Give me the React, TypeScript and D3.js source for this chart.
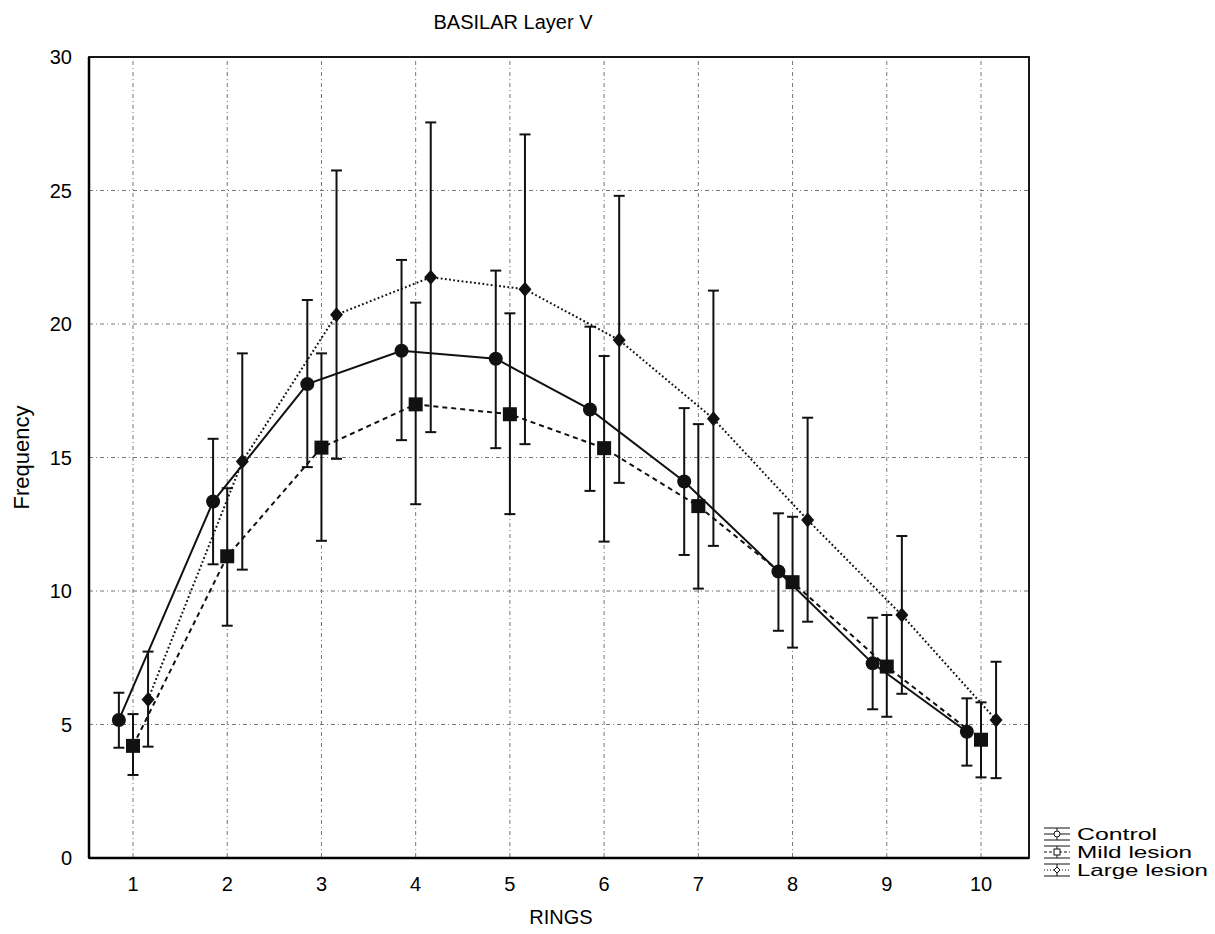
import React from "react";
import * as d3 from "d3";

const rings = [1, 2, 3, 4, 5, 6, 7, 8, 9, 10];
const yTicks = [0, 5, 10, 15, 20, 25, 30];

const controlMean = [5.17, 13.35, 17.75, 19.0, 18.7, 16.8, 14.1, 10.73, 7.29, 4.73];
const controlHi = [6.19, 15.7, 20.9, 22.4, 22.0, 19.9, 16.85, 12.91, 9.0, 5.98];
const controlLo = [4.13, 11.0, 14.64, 15.65, 15.35, 13.75, 11.35, 8.51, 5.57, 3.46];

const mildMean = [4.2, 11.3, 15.37, 16.99, 16.62, 15.35, 13.18, 10.33, 7.17, 4.43];
const mildHi = [5.39, 13.85, 18.9, 20.8, 20.4, 18.8, 16.25, 12.78, 9.1, 5.83];
const mildLo = [3.11, 8.7, 11.88, 13.25, 12.88, 11.85, 10.09, 7.88, 5.29, 3.02];

const largeMean = [5.94, 14.85, 20.35, 21.75, 21.3, 19.4, 16.45, 12.66, 9.1, 5.17];
const largeHi = [7.73, 18.9, 25.75, 27.55, 27.1, 24.8, 21.25, 16.49, 12.06, 7.35];
const largeLo = [4.17, 10.8, 14.95, 15.95, 15.5, 14.05, 11.69, 8.85, 6.15, 2.99];

const seriesNames = ["Control", "Mild lesion", "Large lesion"];

const FONT = "'Liberation Sans', Arial, sans-serif";

export default function App() {
  const left = 89, right = 1029, top = 57, bottom = 858;
  const x = d3.scaleLinear().domain([1, 10]).range([133, 981]);
  const y = d3.scaleLinear().domain([0, 30]).range([bottom, top]);
  const offsets = [-0.15, 0, 0.16];

  const series = [
    { name: seriesNames[0], mean: controlMean, hi: controlHi, lo: controlLo, marker: "circle", dash: "none", tl: 80 },
    { name: seriesNames[1], mean: mildMean, hi: mildHi, lo: mildLo, marker: "square", dash: "5,4", tl: 115 },
    { name: seriesNames[2], mean: largeMean, hi: largeHi, lo: largeLo, marker: "diamond", dash: "1.8,2.4", tl: 131 },
  ];

  const line = d3
    .line<[number, number]>()
    .x((d) => d[0])
    .y((d) => d[1])
    .curve(d3.curveLinear);

  const marker = (type: string, cx: number, cy: number, key: string) => {
    if (type === "circle") return <circle key={key} cx={cx} cy={cy} r={7} fill="#111" />;
    if (type === "square")
      return <rect key={key} x={cx - 7} y={cy - 7} width={14} height={14} fill="#111" />;
    return (
      <path
        key={key}
        d={`M${cx},${cy - 7.5}L${cx + 6.5},${cy}L${cx},${cy + 7.5}L${cx - 6.5},${cy}Z`}
        fill="#111"
      />
    );
  };

  const cap = 5.5;

  return (
    <svg
      width={1215}
      height={934}
      style={{ position: "absolute", left: 0, top: 0, background: "#fff" }}
      fontFamily={FONT}
    >
      <rect width={1215} height={934} fill="#fff" />
      {/* grid */}
      {rings.map((r) => (
        <line
          key={"gx" + r}
          x1={x(r)}
          x2={x(r)}
          y1={top}
          y2={bottom}
          stroke="#777"
          strokeWidth={1}
          strokeDasharray="1,3,4,3"
        />
      ))}
      {yTicks
        .filter((t) => t > 0 && t < 30)
        .map((t) => (
          <line
            key={"gy" + t}
            x1={left}
            x2={right}
            y1={y(t)}
            y2={y(t)}
            stroke="#777"
            strokeWidth={1}
            strokeDasharray="4,3,1,3"
          />
        ))}
      {/* lines */}
      {series.map((s, si) => (
        <path
          key={"l" + si}
          d={line(s.mean.map((v, i) => [x(rings[i] + offsets[si]), y(v)] as [number, number])) || ""}
          fill="none"
          stroke="#111"
          strokeWidth={2}
          strokeDasharray={s.dash}
        />
      ))}
      {/* error bars */}
      {series.map((s, si) =>
        s.mean.map((v, i) => {
          const cx = x(rings[i] + offsets[si]);
          return (
            <g key={"e" + si + "-" + i} stroke="#111" strokeWidth={2}>
              <line x1={cx} x2={cx} y1={y(s.hi[i])} y2={y(s.lo[i])} />
              <line x1={cx - cap} x2={cx + cap} y1={y(s.hi[i])} y2={y(s.hi[i])} />
              <line x1={cx - cap} x2={cx + cap} y1={y(s.lo[i])} y2={y(s.lo[i])} />
            </g>
          );
        })
      )}
      {/* markers */}
      {series.map((s, si) =>
        s.mean.map((v, i) => marker(s.marker, x(rings[i] + offsets[si]), y(v), "m" + si + "-" + i))
      )}
      {/* frame */}
      <rect x={left} y={top} width={right - left} height={bottom - top} fill="none" stroke="#000" strokeWidth={1.8} />
      <line x1={left} x2={left} y1={top} y2={bottom} stroke="#000" strokeWidth={2.5} />
      <line x1={left} x2={right} y1={bottom} y2={bottom} stroke="#000" strokeWidth={2.5} />
      {/* y ticks */}
      {yTicks.map((t) => (
        <text key={"yt" + t} x={72} y={y(t) + 7} textAnchor="end" fontSize={20} fill="#000">
          {t}
        </text>
      ))}
      {rings.map((r) => (
        <text key={"xt" + r} x={x(r)} y={891} textAnchor="middle" fontSize={20} fill="#000">
          {r}
        </text>
      ))}
      <text x={513} y={29} textAnchor="middle" fontSize={20} fill="#000">
        BASILAR Layer V
      </text>
      <text x={561} y={924} textAnchor="middle" fontSize={20} fill="#000">
        RINGS
      </text>
      <text
        transform={`translate(29,${y(15)}) rotate(-90)`}
        textAnchor="middle"
        fontSize={22}
        fill="#000"
      >
        Frequency
      </text>
      {/* legend */}
      {series.map((s, si) => {
        const ly = 834 + si * 18;
        const lx0 = 1044, lx1 = 1070, lc = 1057;
        return (
          <g key={"lg" + si}>
            <line x1={lx0} x2={lx1} y1={ly - 6} y2={ly - 6} stroke="#111" strokeWidth={1} />
            <line x1={lx0} x2={lx1} y1={ly + 6} y2={ly + 6} stroke="#111" strokeWidth={1} />
            <line x1={lc} x2={lc} y1={ly - 6} y2={ly + 6} stroke="#111" strokeWidth={1} />
            <line x1={lx0} x2={lx1} y1={ly} y2={ly} stroke="#111" strokeWidth={1} strokeDasharray={s.dash === "none" ? "none" : si === 1 ? "3,2" : "1,2"} />
            {si === 0 && <circle cx={lc} cy={ly} r={3} fill="#fff" stroke="#111" />}
            {si === 1 && <rect x={lc - 3} y={ly - 3} width={6} height={6} fill="#fff" stroke="#111" />}
            {si === 2 && <path d={`M${lc},${ly - 3}L${lc + 3},${ly}L${lc},${ly + 3}L${lc - 3},${ly}Z`} fill="#fff" stroke="#111" />}
            <text x={1077} y={ly + 6} fontSize={17} textLength={s.tl} lengthAdjust="spacingAndGlyphs" fill="#000">
              {s.name}
            </text>
          </g>
        );
      })}
    </svg>
  );
}
